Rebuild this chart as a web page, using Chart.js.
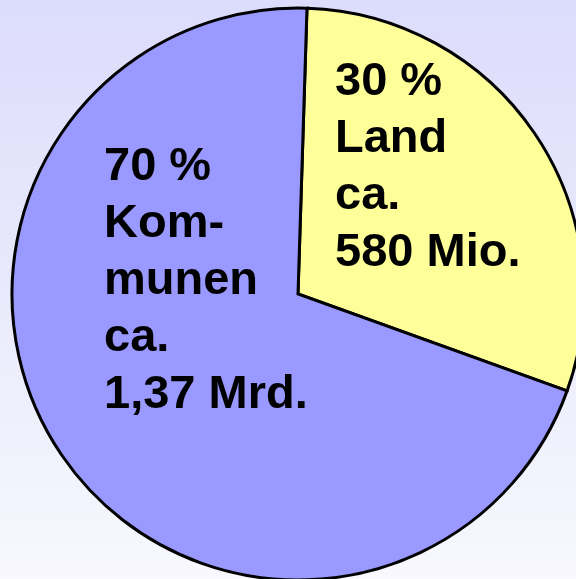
<!DOCTYPE html>
<html>
<head>
<meta charset="utf-8">
<script src="https://cdn.jsdelivr.net/npm/chart.js@4.4.1/dist/chart.umd.min.js"></script>
<style>
    html, body { margin: 0; padding: 0; }
    body {
        width: 576px; height: 579px; overflow: hidden;
        background: linear-gradient(to bottom, #dcdcfc 0%, #e8e8fc 45%, #f8f8fe 100%);
    }
    #wrap { position: relative; width: 576px; height: 579px; }
</style>
</head>
<body>
<div id="wrap"><canvas id="pieChart" width="576" height="579"></canvas></div>
<script>
const SLICE_NAMES = ["Land", "Kommunen"];
const SLICE_SHARES = [30, 70];
const SLICE_COLORS = ["#ffff99", "#9999ff"];
const SLICE_LABELS = [
    ["30 %", "Land", "ca.", "580 Mio."],
    ["70 %", "Kom-", "munen", "ca.", "1,37 Mrd."]
];
// label anchor (first baseline) relative to pie centre, in px
const LABEL_OFFSETS = [[37, -199], [-194, -114]];
const LINE_HEIGHT = 57;

const sliceText = {
    id: "sliceText",
    afterDatasetsDraw(chart) {
        const ctx = chart.ctx;
        const arc = chart.getDatasetMeta(0).data[0];
        if (!arc) return;
        ctx.save();
        ctx.fillStyle = "#000";
        ctx.font = "bold 47px 'Liberation Sans', Arial, sans-serif";
        ctx.textAlign = "left";
        ctx.textBaseline = "alphabetic";
        SLICE_LABELS.forEach((lines, i) => {
            const [dx, dy] = LABEL_OFFSETS[i];
            lines.forEach((line, j) => {
                ctx.fillText(line, arc.x + dx, arc.y + dy + j * LINE_HEIGHT);
            });
        });
        ctx.restore();
    }
};

new Chart(document.getElementById("pieChart"), {
    type: "pie",
    data: {
        labels: SLICE_NAMES,
        datasets: [{
            data: SLICE_SHARES,
            backgroundColor: SLICE_COLORS,
            borderColor: "#000",
            borderWidth: 3,
            borderJoinStyle: "miter"
        }]
    },
    options: {
        responsive: false,
        animation: false,
        rotation: 1.8,
        radius: 286,
        layout: { padding: { left: 20, top: 9, right: 0, bottom: 0 } },
        plugins: { legend: { display: false }, tooltip: { enabled: false } }
    },
    plugins: [sliceText]
});
</script>
</body>
</html>
